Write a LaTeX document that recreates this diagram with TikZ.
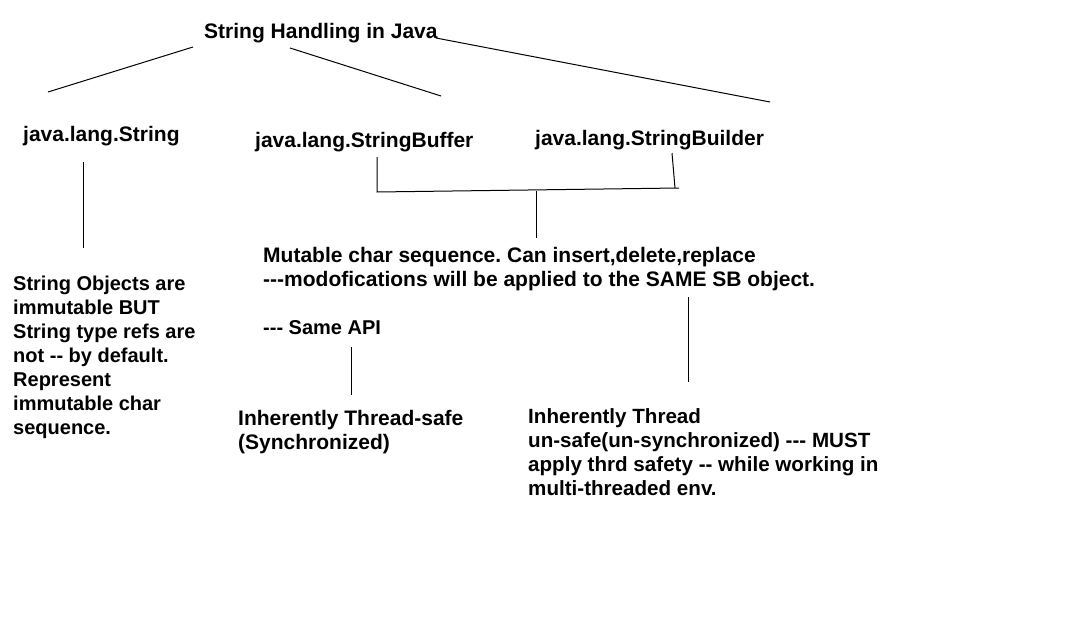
\documentclass[tikz,border=0pt]{standalone}
\usepackage{fontspec}
\setmainfont{Liberation Sans}
\frenchspacing
\newcommand{\hy}{-\kern0pt}
\begin{document}
\begin{tikzpicture}[x=1pt,y=-1pt,
    head/.style={anchor=base west,inner sep=0pt,font=\bfseries\fontsize{21}{24}\selectfont},
    note/.style={anchor=base west,inner sep=0pt,align=left,font=\bfseries\fontsize{20.6}{24}\selectfont},
    link/.style={black,line width=1pt}]
\useasboundingbox (0,0) rectangle (1088,626);
% headings
\node[head] (title) at (204,39) {String Handling in Java};
\node[head] (str) at (23,142) {java.lang.String};
\node[head] (sbuf) at (255,147) {java.lang.StringBuffer};
\node[head] (sbld) at (535,146) {java.lang.StringBuilder};
% notes (anchored at the baseline of their last line)
\node[note,font=\bfseries\fontsize{20}{24}\selectfont] (strnote) at (13,434) {String Objects are\\immutable BUT\\String type refs are\\not \hy- by default.\\Represent\\immutable char\\sequence.};
\node[note,font=\bfseries\fontsize{21}{24}\selectfont] (mutable) at (263,286) {Mutable char sequence. Can insert,delete,replace\\\hy\hy-modofications will be applied to the SAME SB object.};
\node[note,font=\bfseries\fontsize{20}{24}\selectfont] (api) at (263,334) {\hy\hy- Same API};
\node[note,font=\bfseries\fontsize{21}{24}\selectfont] (safe) at (238,449) {Inherently Thread-safe\\(Synchronized)};
\node[note] (unsafe) at (528,495) {Inherently Thread\\un-safe(un-synchronized) \hy\hy- MUST\\apply thrd safety \hy- while working in\\multi-threaded env.};
% line ends
\coordinate (title-l) at (193,47);
\coordinate (title-m) at (290,48);
\coordinate (title-r) at (436,38);
\coordinate (str-top) at (48,92);
\coordinate (sbuf-top) at (441,96);
\coordinate (sbld-top) at (770,102);
\coordinate (str-bot) at (83,162);
\coordinate (strnote-top) at (83,248);
\coordinate (sbuf-bot) at (377,157);
\coordinate (sbld-bot) at (672,153);
\coordinate (brk-l) at (377,192);
\coordinate (brk-r) at (679,188);
\coordinate (brk-rv) at (675,188);
\coordinate (brk-m) at (536,191);
\coordinate (mutable-top) at (536,238);
\coordinate (mutable-bot) at (688,297);
\coordinate (unsafe-top) at (688,382);
\coordinate (api-bot) at (351,347);
\coordinate (safe-top) at (351,395);
% connectors
\draw[link] (title-l) -- (str-top);
\draw[link] (title-m) -- (sbuf-top);
\draw[link] (title-r) -- (sbld-top);
\draw[link] (str-bot) -- (strnote-top);
\draw[link] (sbuf-bot) -- (brk-l) -- (brk-r);
\draw[link] (brk-rv) -- (sbld-bot);
\draw[link] (brk-m) -- (mutable-top);
\draw[link] (mutable-bot) -- (unsafe-top);
\draw[link] (api-bot) -- (safe-top);
\end{tikzpicture}
\end{document}
